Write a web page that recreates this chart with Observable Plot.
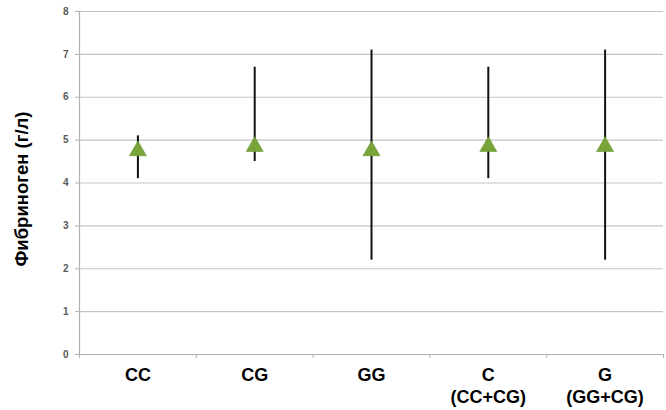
<!DOCTYPE html>
<html>
<head>
<meta charset="utf-8">
<script src="https://cdn.jsdelivr.net/npm/d3@7"></script>
<script src="https://cdn.jsdelivr.net/npm/@observablehq/plot@0.6"></script>
<style>
  html, body { margin: 0; padding: 0; background: #fff; }
  svg { display: block; }
</style>
</head>
<body>
<div id="chart"></div>
<script>
const categories = ["CC", "CG", "GG", "C\n(CC+CG)", "G\n(GG+CG)"];
const lows  = [4.1, 4.5, 2.2, 4.1, 2.2];
const highs = [5.1, 6.7, 7.1, 6.7, 7.1];
const means = [4.75, 4.85, 4.75, 4.85, 4.85];
const yTicks = [0, 1, 2, 3, 4, 5, 6, 7, 8];
const yTitle = "Фибриноген (г/л)";

const data = categories.map((c, i) => ({ i: i + 0.5, cat: c, lo: lows[i], hi: highs[i], mean: means[i] }));
const boundaries = d3.range(categories.length + 1);

const chart = Plot.plot({
  width: 666,
  height: 410,
  marginLeft: 79,
  marginRight: 3,
  marginTop: 11,
  marginBottom: 56,
  style: { fontFamily: "'Liberation Sans', Arial, sans-serif", background: "#fff" },
  x: { type: "linear", domain: [0, categories.length] },
  y: { domain: [0, 8] },
  marks: [
    Plot.ruleY(yTicks, { stroke: "#c4c4c4", strokeWidth: 1.2 }),
    Plot.ruleX([0], { stroke: "#b0b0b0", strokeWidth: 1.2 }),
    Plot.ruleY([0], { stroke: "#b0b0b0", strokeWidth: 1.2 }),
    Plot.axisY({ ticks: yTicks, tickSize: 4, tickPadding: 7, stroke: "#b0b0b0", fill: "#595959", fontSize: 10, fontWeight: "bold", label: null }),
    Plot.axisX({ ticks: boundaries, tickSize: 4, tickFormat: () => "", stroke: "#b0b0b0", label: null }),
    Plot.axisX({ ticks: data.map(d => d.i), tickSize: 0, tickPadding: 11, tickFormat: (d, k) => categories[k], fontSize: 18, fontWeight: "bold", fill: "#000", lineHeight: 1.22, label: null }),
    Plot.ruleX(data, { x: "i", y1: "lo", y2: "hi", stroke: "#111", strokeWidth: 2 }),
    Plot.dot(data, { x: "i", y: "mean", symbol: "triangle", r: 6.3, fill: "#78a43a", stroke: "#6a9632", strokeWidth: 0.6 }),
    Plot.text([yTitle], { frameAnchor: "left", textAnchor: "middle", lineAnchor: "middle", rotate: -90, dx: -57, dy: 6, fontSize: 18.5, fontWeight: "bold", fill: "#000" })
  ]
});
document.getElementById("chart").appendChild(chart);
</script>
</body>
</html>
